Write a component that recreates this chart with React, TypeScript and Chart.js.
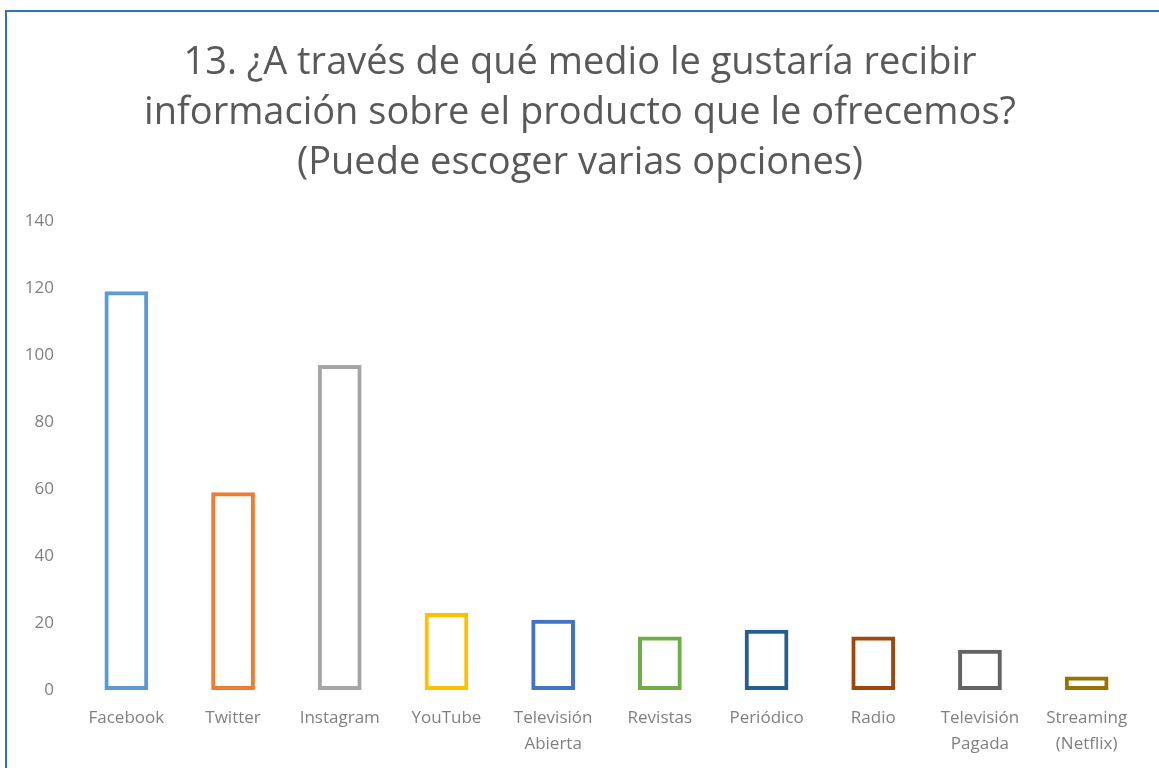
import React, { useEffect, useRef } from "react";
import { Chart, registerables } from "chart.js";

Chart.register(...registerables);

const titleLines = [
  "13. ¿A través de qué medio le gustaría recibir",
  "información sobre el producto que le ofrecemos?",
  "(Puede escoger varias opciones)",
];

const categories: (string | string[])[] = [
  "Facebook",
  "Twitter",
  "Instagram",
  "YouTube",
  ["Televisión", "Abierta"],
  "Revistas",
  "Periódico",
  "Radio",
  ["Televisión", "Pagada"],
  ["Streaming", "(Netflix)"],
];

const values = [119, 59, 97, 23, 21, 16, 18, 16, 12, 4];

const barColors = [
  "#5B9BD5",
  "#ED7D31",
  "#A5A5A5",
  "#FFC000",
  "#4472C4",
  "#70AD47",
  "#255E91",
  "#9E480E",
  "#636363",
  "#997300",
];

const yMax = 140;
const yStep = 20;

export default function App() {
  const ref = useRef<HTMLCanvasElement | null>(null);

  useEffect(() => {
    if (!ref.current) return;
    const chart = new Chart(ref.current, {
      type: "bar",
      data: {
        labels: categories,
        datasets: [
          {
            data: values,
            backgroundColor: "rgba(255,255,255,0)",
            borderColor: barColors,
            borderWidth: 4,
            borderSkipped: false,
            barPercentage: 0.41,
            categoryPercentage: 1,
          },
        ],
      },
      options: {
        responsive: false,
        animation: false,
        layout: { padding: { left: 20, right: 19, top: 0, bottom: 12 } },
        plugins: {
          legend: { display: false },
          tooltip: { enabled: false },
          title: {
            display: true,
            text: titleLines,
            color: "#595959",
            font: { family: "'Open Sans'", size: 38, weight: "normal", lineHeight: 50 / 38 },
            padding: { top: 38, bottom: 33 },
          },
        },
        scales: {
          x: {
            grid: { display: false, drawTicks: false },
            border: { display: false },
            ticks: {
              color: "#808080",
              font: { family: "'Open Sans'", size: 17, lineHeight: 26 / 17 },
              padding: 15,
              maxRotation: 0,
              autoSkip: false,
            },
            afterFit: (scale: any) => {
              scale.height = 66;
            },
          },
          y: {
            min: 0,
            max: yMax,
            grid: { display: false, drawTicks: false },
            border: { display: false },
            ticks: {
              stepSize: yStep,
              color: "#808080",
              font: { family: "'Open Sans'", size: 17 },
              padding: 19,
            },
            afterFit: (scale: any) => {
              scale.width = 53;
            },
          },
        },
      },
    });
    return () => chart.destroy();
  }, []);

  return (
    <div
      style={{
        position: "fixed",
        left: 0,
        top: 0,
        width: 1159,
        height: 768,
        background: "#fff",
        overflow: "hidden",
      }}
    >
      <canvas
        ref={ref}
        width={1159}
        height={768}
        style={{ position: "absolute", left: 0, top: 0, width: 1159, height: 768 }}
      />
      <div
        style={{
          position: "absolute",
          left: 5,
          top: 10,
          width: 1200,
          height: 800,
          borderTop: "2px solid #2E75B6",
          borderLeft: "2px solid #2E75B6",
          pointerEvents: "none",
        }}
      />
    </div>
  );
}
